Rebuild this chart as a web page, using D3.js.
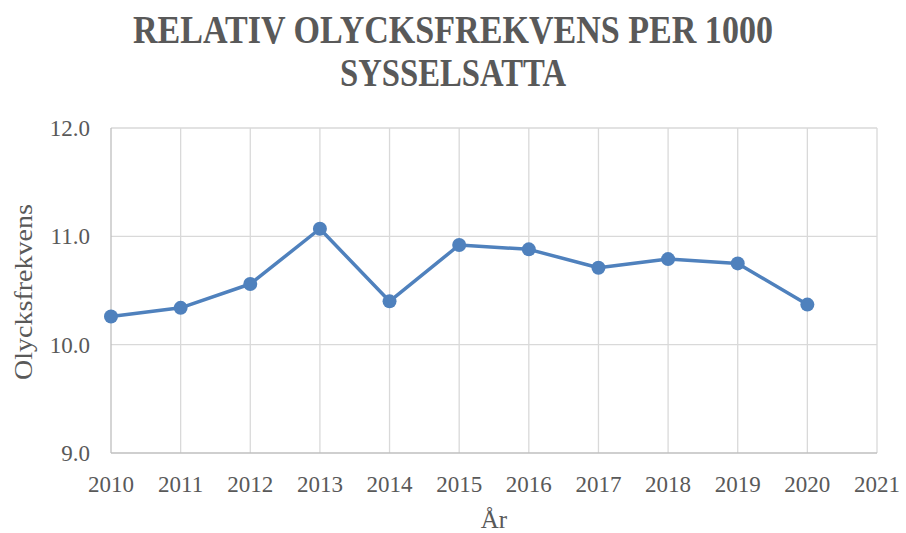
<!DOCTYPE html>
<html>
<head>
<meta charset="utf-8">
<script src="https://cdn.jsdelivr.net/npm/d3@7"></script>
<style>
  body { margin: 0; background: #fff; }
  text { font-family: "Liberation Serif", "DejaVu Serif", serif; fill: #595959; }
</style>
</head>
<body>
<svg id="chart" width="906" height="533"></svg>
<script>
// chart data
const years = [2010, 2011, 2012, 2013, 2014, 2015, 2016, 2017, 2018, 2019, 2020];
const values = [10.26, 10.34, 10.56, 11.07, 10.40, 10.92, 10.88, 10.71, 10.79, 10.75, 10.37];
const xTicks = [2010, 2011, 2012, 2013, 2014, 2015, 2016, 2017, 2018, 2019, 2020, 2021];
const yTicks = [9, 10, 11, 12];
const titleLines = ["RELATIV OLYCKSFREKVENS PER 1000", "SYSSELSATTA"];

const svg = d3.select("#chart");
const margin = { top: 128, right: 29, bottom: 80, left: 111 };
const W = 906, H = 533;

const x = d3.scaleLinear().domain([2010, 2021]).range([margin.left, W - margin.right]);
const y = d3.scaleLinear().domain([9, 12]).range([453, 128]);

// gridlines
const grid = svg.append("g");
grid.selectAll("line.v").data(xTicks.slice(1)).join("line")
  .attr("x1", d => x(d)).attr("x2", d => x(d))
  .attr("y1", y(12)).attr("y2", y(9))
  .attr("stroke", "#d9d9d9").attr("stroke-width", 1.3);
grid.selectAll("line.h").data(yTicks.slice(1)).join("line")
  .attr("x1", x(2010)).attr("x2", x(2021))
  .attr("y1", d => y(d)).attr("y2", d => y(d))
  .attr("stroke", "#d9d9d9").attr("stroke-width", 1.3);

// axes lines
svg.append("line").attr("x1", x(2010)).attr("x2", x(2010)).attr("y1", y(12)).attr("y2", y(9))
  .attr("stroke", "#bfbfbf").attr("stroke-width", 1.3);
svg.append("line").attr("x1", x(2010)).attr("x2", x(2021)).attr("y1", y(9)).attr("y2", y(9))
  .attr("stroke", "#bfbfbf").attr("stroke-width", 1.3);

// tick labels
svg.append("g").selectAll("text").data(yTicks).join("text")
  .attr("x", 90).attr("y", d => y(d) + 8)
  .attr("text-anchor", "end").attr("font-size", 23)
  .text(d => d3.format(".1f")(d));

svg.append("g").selectAll("text").data(xTicks).join("text")
  .attr("x", d => x(d)).attr("y", 492)
  .attr("text-anchor", "middle").attr("font-size", 23)
  .text(d => d);

// axis titles
svg.append("text")
  .attr("transform", `translate(32,292) rotate(-90)`)
  .attr("text-anchor", "middle").attr("font-size", 25)
  .attr("textLength", 176).attr("lengthAdjust", "spacingAndGlyphs")
  .text("Olycksfrekvens");
svg.append("text")
  .attr("x", (x(2010) + x(2021)) / 2).attr("y", 528)
  .attr("text-anchor", "middle").attr("font-size", 25)
  .text("År");

// title
svg.append("g").selectAll("text").data(titleLines).join("text")
  .attr("x", W / 2).attr("y", (d, i) => 42.5 + i * 43)
  .attr("text-anchor", "middle").attr("font-size", 39).attr("font-weight", "bold")
  .attr("textLength", (d, i) => i === 0 ? 640 : 226)
  .attr("lengthAdjust", "spacingAndGlyphs")
  .text(d => d);

// series
const pts = years.map((yr, i) => ({ yr, v: values[i] }));
svg.append("path").datum(pts)
  .attr("fill", "none").attr("stroke", "#4f81bd").attr("stroke-width", 3.5)
  .attr("stroke-linejoin", "round")
  .attr("d", d3.line().x(d => x(d.yr)).y(d => y(d.v)));
svg.append("g").selectAll("circle").data(pts).join("circle")
  .attr("cx", d => x(d.yr)).attr("cy", d => y(d.v)).attr("r", 7)
  .attr("fill", "#4f81bd");
</script>
</body>
</html>
